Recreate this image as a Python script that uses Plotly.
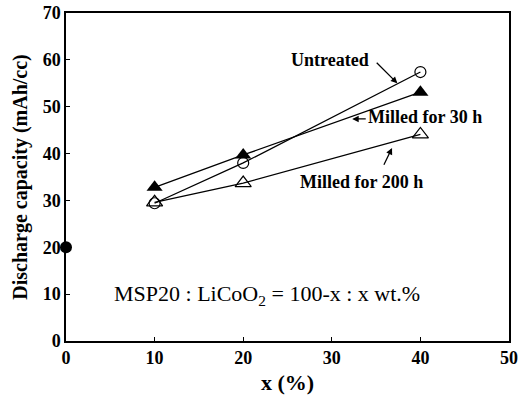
import plotly.graph_objects as go

x_vals = [10, 20, 40]
untreated = [29.4, 38.0, 57.4]
milled_30h = [32.8, 39.7, 53.1]
milled_200h = [29.6, 33.7, 44.1]
ref_x = [0]
ref_y = [20]
x_ticks = [0, 10, 20, 30, 40, 50]
y_ticks = [0, 10, 20, 30, 40, 50, 60, 70]

FONT = "Liberation Serif"
fig = go.Figure()
line = dict(color="black", width=1.3)
fig.add_trace(go.Scatter(x=x_vals, y=untreated, mode="lines+markers", line=line,
                         marker=dict(symbol="circle-open", size=11, color="black", line=dict(width=1.2)),
                         name="Untreated"))
fig.add_trace(go.Scatter(x=x_vals, y=milled_30h, mode="lines+markers", line=line,
                         marker=dict(symbol="triangle-up", size=14, color="black"),
                         name="Milled for 30 h"))
fig.add_trace(go.Scatter(x=x_vals, y=milled_200h, mode="lines+markers", line=line,
                         marker=dict(symbol="triangle-up-open", size=14, color="black", line=dict(width=1.2)),
                         name="Milled for 200 h"))
fig.add_trace(go.Scatter(x=ref_x, y=ref_y, mode="markers",
                         marker=dict(symbol="circle", size=12, color="black"), cliponaxis=False,
                         name="MSP20"))

ann_font = dict(family=FONT, size=18, color="black")
fig.add_annotation(x=29.8, y=59.9, text="<b>Untreated</b>", showarrow=False, font=ann_font)
fig.add_annotation(x=37.4, y=55.0, ax=34.9, ay=59.7, axref="x", ayref="y", xref="x", yref="y",
                   text="", showarrow=True, arrowhead=2, arrowsize=1, arrowwidth=1.3, arrowcolor="black")
fig.add_annotation(x=33.9, y=47.8, text="<b>Milled for 30 h</b>", showarrow=False, font=ann_font,
                   xanchor="left")
fig.add_annotation(x=32.3, y=47.4, ax=34.0, ay=47.4, axref="x", ayref="y", xref="x", yref="y",
                   text="", showarrow=True, arrowhead=2, arrowsize=1, arrowwidth=1.3, arrowcolor="black")
fig.add_annotation(x=33.4, y=33.9, text="<b>Milled for 200 h</b>", showarrow=False, font=ann_font)
fig.add_annotation(x=36.8, y=41.2, ax=35.8, ay=37.3, axref="x", ayref="y", xref="x", yref="y",
                   text="", showarrow=True, arrowhead=2, arrowsize=1, arrowwidth=1.3, arrowcolor="black")
fig.add_annotation(x=5.2, y=9.8, text="MSP20 : LiCoO<sub>2</sub> = 100-x : x wt.%", showarrow=False,
                   xanchor="left", font=dict(family=FONT, size=22, color="black"))

axis_common = dict(showgrid=False, zeroline=False, showline=True, linecolor="black", linewidth=1.5,
                   mirror=True, ticks="inside", ticklen=4, tickcolor="black", automargin=False,
                   tickfont=dict(family=FONT, size=18, color="black"))
fig.update_xaxes(range=[0, 50], tickvals=x_ticks, ticktext=[f"<b>{v}</b>" for v in x_ticks],
                 title=dict(text="<b>x (%)</b>", font=dict(family=FONT, size=22, color="black"), standoff=7),
                 **axis_common)
fig.update_yaxes(range=[0, 70], tickvals=y_ticks, ticktext=[f"<b>{v}</b>" for v in y_ticks],
                 title=dict(text="<b>Discharge capacity (mAh/cc)</b>", font=dict(family=FONT, size=20, color="black"),
                            standoff=10),
                 ticklabelstandoff=0,
                 **axis_common)
fig.update_layout(width=530, height=398, margin=dict(l=66, r=21, t=13, b=57),
                  plot_bgcolor="white", paper_bgcolor="white", showlegend=False,
                  font=dict(family=FONT, color="black"))
fig.write_html("out.html")
